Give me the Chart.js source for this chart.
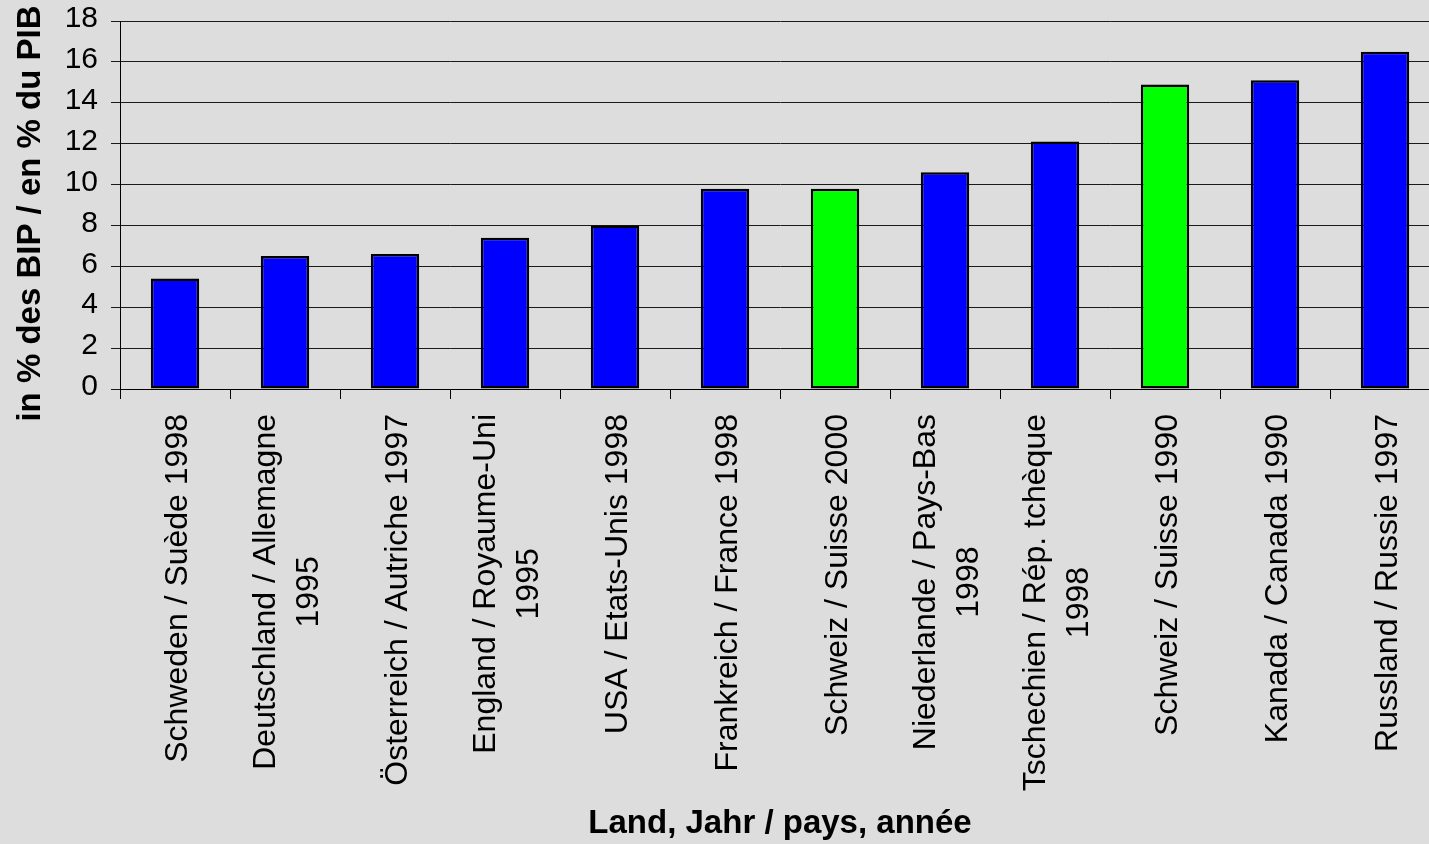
<!DOCTYPE html>
<html>
<head>
<meta charset="utf-8">
<title>Anteil in % des BIP</title>
<script src="https://cdn.jsdelivr.net/npm/chart.js@4/dist/chart.umd.min.js"></script>
<style>
  html, body { margin: 0; padding: 0; background: #DDDDDD; overflow: hidden; }
  canvas { display: block; }
</style>
</head>
<body>
<canvas id="chart" width="1440" height="844"></canvas>
<script>
// Country / year categories (each entry = lines of the axis label)
const categories = [
  ['Schweden / Suède 1998'],
  ['Deutschland / Allemagne', '1995'],
  ['Österreich / Autriche 1997'],
  ['England / Royaume-Uni', '1995'],
  ['USA / Etats-Unis 1998'],
  ['Frankreich / France 1998'],
  ['Schweiz / Suisse 2000'],
  ['Niederlande / Pays-Bas', '1998'],
  ['Tschechien / Rép. tchèque', '1998'],
  ['Schweiz / Suisse 1990'],
  ['Kanada / Canada 1990'],
  ['Russland / Russie 1997']
];

// Share in % of GDP
const values = [5.4, 6.5, 6.6, 7.4, 8.0, 9.8, 9.8, 10.6, 12.1, 14.9, 15.1, 16.5];

// Value axis ticks
const yTicks = [0, 2, 4, 6, 8, 10, 12, 14, 16, 18];

const yTitle = 'in % des BIP / en % du PIB';
const xTitle = 'Land, Jahr / pays, année';

const FONT = '"Liberation Sans", Arial, Helvetica, sans-serif';
const BLUE = '#0000FF';
const GREEN = '#00FF00';

// Swiss bars are highlighted in green
const barColors = categories.map(c => c[0].startsWith('Schweiz') ? GREEN : BLUE);

// Rotated, centre-aligned multi-line category labels and the value-axis title
const labelPlugin = {
  id: 'rotatedLabels',
  afterDraw(chart) {
    const ctx = chart.ctx;
    const xs = chart.scales.x;
    const top = 414;
    const lineGap = 43.5;
    ctx.save();
    ctx.fillStyle = '#000';
    ctx.font = '32px ' + FONT;
    ctx.textAlign = 'center';
    ctx.textBaseline = 'alphabetic';
    categories.forEach((lines, i) => {
      const cx = xs.getPixelForValue(i);
      const maxW = Math.max(...lines.map(l => ctx.measureText(l).width));
      const n = lines.length;
      lines.forEach((line, j) => {
        ctx.save();
        ctx.translate(cx + 11.5 + (j - (n - 1) / 2) * lineGap, top + maxW / 2);
        ctx.rotate(-Math.PI / 2);
        ctx.fillText(line, 0, 0);
        ctx.restore();
      });
    });
    // value-axis title
    ctx.font = 'bold 33px ' + FONT;
    ctx.save();
    ctx.translate(40, 213.5);
    ctx.rotate(-Math.PI / 2);
    ctx.fillText(yTitle, 0, 0);
    ctx.restore();
    ctx.restore();
  }
};

new Chart(document.getElementById('chart'), {
  type: 'bar',
  data: {
    labels: categories,
    datasets: [{
      data: values,
      backgroundColor: barColors,
      borderColor: '#000000',
      borderWidth: 2.5,
      borderSkipped: false,
      categoryPercentage: 1.0,
      barPercentage: 0.44
    }]
  },
  options: {
    responsive: false,
    animation: false,
    devicePixelRatio: 1,
    layout: { padding: { top: 21, right: 0, bottom: 0, left: 0 } },
    plugins: {
      legend: { display: false },
      tooltip: { enabled: false }
    },
    scales: {
      x: {
        type: 'category',
        grid: {
          offset: true,
          drawOnChartArea: false,
          drawTicks: true,
          tickLength: 10,
          color: '#000000',
          lineWidth: 1
        },
        border: { display: true, color: '#000000', width: 1 },
        ticks: { display: false },
        title: {
          display: true,
          text: xTitle,
          color: '#000000',
          font: { family: FONT, size: 33, weight: 'bold' },
          padding: { top: 0, bottom: 0.6 }
        },
        afterFit(scale) {
          scale.height = 455;
          scale.paddingLeft = 0;
          scale.paddingRight = 0;
        }
      },
      y: {
        min: 0,
        max: 18,
        afterBuildTicks(scale) { scale.ticks = yTicks.map(v => ({ value: v })); },
        grid: {
          color: '#1a1a1a',
          lineWidth: 1,
          drawTicks: true,
          tickLength: 9
        },
        border: { display: true, color: '#000000', width: 1 },
        ticks: {
          color: '#000000',
          font: { family: FONT, size: 30 },
          padding: 13,
          labelOffset: -2
        },
        afterFit(scale) {
          scale.width = 120;
          scale.paddingTop = 0;
          scale.paddingBottom = 0;
        }
      }
    }
  },
  plugins: [labelPlugin]
});
</script>
</body>
</html>
